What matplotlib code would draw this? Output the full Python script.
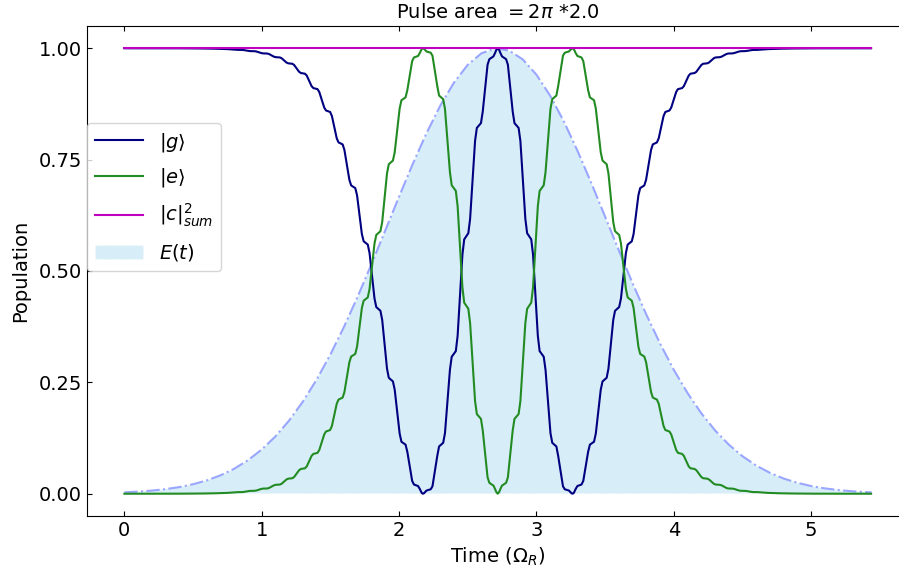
import matplotlib
matplotlib.use("Agg")
import matplotlib.pyplot as plt
import numpy as np

# ---- data ----
time = [0.000, 0.200, 0.400, 0.568, 0.659, 0.751, 0.814, 0.827, 0.857, 0.870,
        0.906, 0.919, 0.949, 0.962, 0.997, 1.010, 1.040, 1.053, 1.089, 1.102,
        1.132, 1.145, 1.180, 1.193, 1.223, 1.236, 1.272, 1.285, 1.315, 1.328,
        1.363, 1.376, 1.406, 1.419, 1.455, 1.468, 1.498, 1.511, 1.546, 1.559,
        1.589, 1.602, 1.638, 1.651, 1.681, 1.694, 1.729, 1.742, 1.772, 1.785,
        1.821, 1.834, 1.864, 1.877, 1.912, 1.925, 1.955, 1.968, 2.004, 2.017,
        2.047, 2.060, 2.095, 2.108, 2.138, 2.151, 2.158, 2.165, 2.173, 2.180,
        2.187, 2.200, 2.230, 2.243, 2.278, 2.291, 2.321, 2.334, 2.370, 2.383,
        2.413, 2.426, 2.461, 2.474, 2.504, 2.517, 2.553, 2.566, 2.596, 2.609,
        2.644, 2.657, 2.687, 2.700, 2.707, 2.718,
        2.729, 2.736, 2.749, 2.779, 2.792, 2.827, 2.840, 2.870, 2.883, 2.919,
        2.932, 2.962, 2.975, 3.010, 3.023, 3.053, 3.066, 3.102, 3.115, 3.145,
        3.158, 3.193, 3.206, 3.236, 3.249, 3.256, 3.263, 3.271, 3.278, 3.285,
        3.298, 3.328, 3.341, 3.376, 3.389, 3.419, 3.432, 3.468, 3.481, 3.511,
        3.524, 3.559, 3.572, 3.602, 3.615, 3.651, 3.664, 3.694, 3.707, 3.742,
        3.755, 3.785, 3.798, 3.834, 3.847, 3.877, 3.890, 3.925, 3.938, 3.968,
        3.981, 4.017, 4.030, 4.060, 4.073, 4.108, 4.121, 4.151, 4.164, 4.200,
        4.213, 4.243, 4.256, 4.291, 4.304, 4.334, 4.347, 4.383, 4.396, 4.426,
        4.439, 4.474, 4.487, 4.517, 4.530, 4.566, 4.579, 4.609, 4.622, 4.685,
        4.777, 4.868, 5.036, 5.236, 5.436]

pop_g = [1.0000, 1.0000, 0.9999, 0.9995, 0.9990, 0.9981, 0.9967, 0.9964, 0.9963, 0.9959,
         0.9940, 0.9936, 0.9934, 0.9927, 0.9892, 0.9885, 0.9882, 0.9871, 0.9811, 0.9800,
         0.9794, 0.9776, 0.9680, 0.9662, 0.9652, 0.9624, 0.9472, 0.9444, 0.9429, 0.9385,
         0.9150, 0.9106, 0.9083, 0.9018, 0.8668, 0.8603, 0.8570, 0.8477, 0.7980, 0.7887,
         0.7842, 0.7716, 0.7047, 0.6921, 0.6861, 0.6698, 0.5830, 0.5667, 0.5593, 0.5402,
         0.4381, 0.4190, 0.4107, 0.3902, 0.2808, 0.2603, 0.2521, 0.2337, 0.1351, 0.1167,
         0.1102, 0.0940, 0.0290, 0.0207, 0.0173, 0.0105, 0.0057, 0.0015, 0.0000, 0.0008,
         0.0031, 0.0072, 0.0100, 0.0167, 0.0850, 0.1061, 0.1143, 0.1360, 0.2780, 0.3075,
         0.3202, 0.3544, 0.5368, 0.5710, 0.5849, 0.6172, 0.7920, 0.8212, 0.8320, 0.8580,
         0.9630, 0.9755, 0.9818, 0.9904, 0.9959, 1.0000,
         0.9959, 0.9904, 0.9818, 0.9755, 0.9630, 0.8580, 0.8320, 0.8212, 0.7920, 0.6172,
         0.5849, 0.5710, 0.5368, 0.3544, 0.3202, 0.3075, 0.2780, 0.1360, 0.1143, 0.1061,
         0.0850, 0.0167, 0.0100, 0.0072, 0.0031, 0.0008, 0.0000, 0.0015, 0.0057, 0.0105,
         0.0173, 0.0207, 0.0290, 0.0940, 0.1102, 0.1167, 0.1351, 0.2337, 0.2521, 0.2603,
         0.2808, 0.3902, 0.4107, 0.4190, 0.4381, 0.5402, 0.5593, 0.5667, 0.5830, 0.6698,
         0.6861, 0.6921, 0.7047, 0.7716, 0.7842, 0.7887, 0.7980, 0.8477, 0.8570, 0.8603,
         0.8668, 0.9018, 0.9083, 0.9106, 0.9150, 0.9385, 0.9429, 0.9444, 0.9472, 0.9624,
         0.9652, 0.9662, 0.9680, 0.9776, 0.9794, 0.9800, 0.9811, 0.9871, 0.9882, 0.9885,
         0.9892, 0.9927, 0.9934, 0.9936, 0.9940, 0.9959, 0.9963, 0.9964, 0.9967, 0.9981,
         0.9990, 0.9995, 0.9999, 1.0000, 1.0000]

pop_e = [0.0000, 0.0000, 0.0001, 0.0005, 0.0010, 0.0019, 0.0033, 0.0036, 0.0037, 0.0041,
         0.0060, 0.0064, 0.0066, 0.0073, 0.0108, 0.0115, 0.0118, 0.0129, 0.0189, 0.0200,
         0.0206, 0.0224, 0.0320, 0.0338, 0.0348, 0.0376, 0.0528, 0.0556, 0.0571, 0.0615,
         0.0850, 0.0894, 0.0917, 0.0982, 0.1332, 0.1397, 0.1430, 0.1523, 0.2020, 0.2113,
         0.2158, 0.2284, 0.2953, 0.3079, 0.3139, 0.3302, 0.4170, 0.4333, 0.4407, 0.4598,
         0.5619, 0.5810, 0.5893, 0.6098, 0.7192, 0.7397, 0.7479, 0.7663, 0.8649, 0.8833,
         0.8898, 0.9060, 0.9710, 0.9793, 0.9827, 0.9895, 0.9943, 0.9985, 1.0000, 0.9992,
         0.9969, 0.9928, 0.9900, 0.9833, 0.9150, 0.8939, 0.8857, 0.8640, 0.7220, 0.6925,
         0.6798, 0.6456, 0.4632, 0.4290, 0.4151, 0.3828, 0.2080, 0.1788, 0.1680, 0.1420,
         0.0370, 0.0245, 0.0182, 0.0096, 0.0041, 0.0000,
         0.0041, 0.0096, 0.0182, 0.0245, 0.0370, 0.1420, 0.1680, 0.1788, 0.2080, 0.3828,
         0.4151, 0.4290, 0.4632, 0.6456, 0.6798, 0.6925, 0.7220, 0.8640, 0.8857, 0.8939,
         0.9150, 0.9833, 0.9900, 0.9928, 0.9969, 0.9992, 1.0000, 0.9985, 0.9943, 0.9895,
         0.9827, 0.9793, 0.9710, 0.9060, 0.8898, 0.8833, 0.8649, 0.7663, 0.7479, 0.7397,
         0.7192, 0.6098, 0.5893, 0.5810, 0.5619, 0.4598, 0.4407, 0.4333, 0.4170, 0.3302,
         0.3139, 0.3079, 0.2953, 0.2284, 0.2158, 0.2113, 0.2020, 0.1523, 0.1430, 0.1397,
         0.1332, 0.0982, 0.0917, 0.0894, 0.0850, 0.0615, 0.0571, 0.0556, 0.0528, 0.0376,
         0.0348, 0.0338, 0.0320, 0.0224, 0.0206, 0.0200, 0.0189, 0.0129, 0.0118, 0.0115,
         0.0108, 0.0073, 0.0066, 0.0064, 0.0060, 0.0041, 0.0037, 0.0036, 0.0033, 0.0019,
         0.0010, 0.0005, 0.0001, 0.0000, 0.0000]

env_time = [0.0, 0.1, 0.2, 0.3, 0.4, 0.5, 0.6, 0.7, 0.8, 0.9, 1.0, 1.1, 1.2, 1.3,
            1.4, 1.5, 1.6, 1.7, 1.8, 1.9, 2.0, 2.1, 2.2, 2.3, 2.4, 2.5, 2.6, 2.7,
            2.8, 2.9, 3.0, 3.1, 3.2, 3.3, 3.4, 3.5, 3.6, 3.7, 3.8, 3.9, 4.0, 4.1,
            4.2, 4.3, 4.4, 4.5, 4.6, 4.7, 4.8, 4.9, 5.0, 5.1, 5.2, 5.3, 5.4, 5.44]
env_E = [0.0031, 0.0047, 0.0070, 0.0103, 0.0149, 0.0213, 0.0299, 0.0413, 0.0561,
         0.0752, 0.0992, 0.1287, 0.1645, 0.2069, 0.2563, 0.3126, 0.3753, 0.4436,
         0.5162, 0.5914, 0.6670, 0.7406, 0.8096, 0.8713, 0.9231, 0.9629, 0.9888,
         0.9997, 0.9950, 0.9750, 0.9406, 0.8933, 0.8353, 0.7689, 0.6968, 0.6217,
         0.5461, 0.4722, 0.4020, 0.3370, 0.2780, 0.2259, 0.1806, 0.1422, 0.1103,
         0.0841, 0.0632, 0.0468, 0.0340, 0.0244, 0.0172, 0.0120, 0.0082, 0.0055,
         0.0037, 0.0031]

yticks = [0.0, 0.25, 0.5, 0.75, 1.0]
xticks = [0, 1, 2, 3, 4, 5]

# ---- plot ----
plt.rcParams['font.family'] = ['DejaVu Sans']
plt.rcParams['mathtext.fontset'] = 'dejavusans'

fig = plt.figure(figsize=(8.99, 5.73), dpi=100)
ax = fig.add_axes([87 / 899, 57 / 573, 822 / 899, 490 / 573])

t = np.array(time)
g = np.array(pop_g)
e = np.array(pop_e)
csum = g + e

fill = ax.fill_between(env_time, env_E, 0, facecolor='skyblue', alpha=0.33,
                       edgecolor='white', linestyle='-.', linewidth=1.0,
                       label=r'$E(t)$', zorder=1)
ax.plot(env_time, env_E, linestyle='-.', color='#9aa6ff', linewidth=1.5, zorder=2)

lg, = ax.plot(t, g, color='navy', linewidth=1.5, label=r'$|g\rangle$', zorder=3)
le, = ax.plot(t, e, color='forestgreen', linewidth=1.5, label=r'$|e\rangle$', zorder=3)
lc, = ax.plot(t, csum, color='m', linewidth=1.5, label=r'$|c|^2_{sum}$', zorder=4)

ax.spines['right'].set_visible(False)
ax.set_xticks(xticks)
ax.set_yticks(yticks)
ax.tick_params(direction='in', top=True, right=False, labelsize=14)
ax.set_xlabel(r'Time ($\Omega_R$)', fontsize=14)
ax.set_ylabel('Population', fontsize=14, labelpad=6)
ax.set_title(r'Pulse area $=2\pi$ *2.0', fontsize=14)

ax.legend(handles=[lg, le, lc, fill], loc='upper left', bbox_to_anchor=(0, 0.802),
          borderaxespad=0, fontsize=14, handlelength=2.5, labelspacing=0.65)

fig.savefig('out.png', dpi=100)
